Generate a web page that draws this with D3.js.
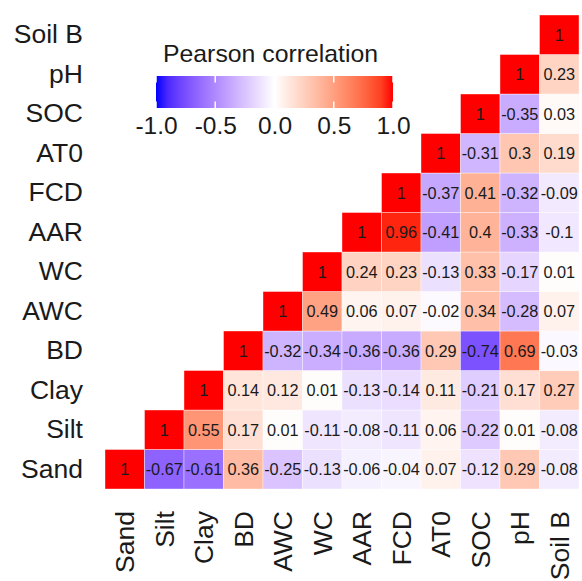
<!DOCTYPE html>
<html>
<head>
<meta charset="utf-8">
<script src="https://cdn.jsdelivr.net/npm/d3@7"></script>
<style>
  html, body { margin: 0; padding: 0; background: #fff; }
  svg { display: block; font-family: "Liberation Sans", Arial, sans-serif; }
</style>
</head>
<body>
<svg id="chart" width="582" height="581"></svg>
<script>
// Variables (bottom-to-top on y, left-to-right on x)
const variables = ["Sand", "Silt", "Clay", "BD", "AWC", "WC", "AAR", "FCD", "AT0", "SOC", "pH", "Soil B"];

// Upper-triangle correlations: row i holds values for columns i..11
const sandRow  = [1, -0.67, -0.61, 0.36, -0.25, -0.13, -0.06, -0.04, 0.07, -0.12, 0.29, -0.08];
const siltRow  = [1, 0.55, 0.17, 0.01, -0.11, -0.08, -0.11, 0.06, -0.22, 0.01, -0.08];
const clayRow  = [1, 0.14, 0.12, 0.01, -0.13, -0.14, 0.11, -0.21, 0.17, 0.27];
const bdRow    = [1, -0.32, -0.34, -0.36, -0.36, 0.29, -0.74, 0.69, -0.03];
const awcRow   = [1, 0.49, 0.06, 0.07, -0.02, 0.34, -0.28, 0.07];
const wcRow    = [1, 0.24, 0.23, -0.13, 0.33, -0.17, 0.01];
const aarRow   = [1, 0.96, -0.41, 0.4, -0.33, -0.1];
const fcdRow   = [1, -0.37, 0.41, -0.32, -0.09];
const at0Row   = [1, -0.31, 0.3, 0.19];
const socRow   = [1, -0.35, 0.03];
const phRow    = [1, 0.23];
const soilBRow = [1];
const corrRows = [sandRow, siltRow, clayRow, bdRow, awcRow, wcRow, aarRow, fcdRow, at0Row, socRow, phRow, soilBRow];

// Legend
const legendTitle = "Pearson correlation";
const legendTicks = [-1, -0.5, 0, 0.5, 1];

// Build cells
const cells = [];
corrRows.forEach((row, i) => {
  row.forEach((v, k) => {
    cells.push({ row: variables[i], col: variables[i + k], value: v });
  });
});

const svg = d3.select("#chart");
const FONT = 26.5;

const x = d3.scaleBand().domain(variables).range([105, 579]).padding(0);
const y = d3.scaleBand().domain(variables).range([489, 15]).padding(0);

const color = d3.scaleLinear()
  .domain([-1, 0, 1])
  .range(["#0000ff", "#ffffff", "#ff0000"])
  .interpolate(d3.interpolateLab);

// Cells
const g = svg.append("g");
g.selectAll("rect")
  .data(cells)
  .join("rect")
  .attr("x", d => x(d.col))
  .attr("y", d => y(d.row))
  .attr("width", x.bandwidth())
  .attr("height", y.bandwidth())
  .attr("fill", d => color(d.value))
  .attr("stroke", "rgba(255,255,255,0.55)")
  .attr("stroke-width", 0.7);

g.selectAll("text")
  .data(cells)
  .join("text")
  .attr("x", d => x(d.col) + x.bandwidth() / 2)
  .attr("y", d => y(d.row) + y.bandwidth() / 2)
  .attr("dy", "0.36em")
  .attr("text-anchor", "middle")
  .attr("font-size", 16.3)
  .attr("fill", "#1a1a1a")
  .text(d => String(d.value));

// Y axis
const yAxis = svg.append("g")
  .attr("transform", "translate(105,0)")
  .call(d3.axisLeft(y).tickSize(0).tickPadding(22));
yAxis.select(".domain").remove();
yAxis.selectAll("text")
  .attr("font-size", FONT)
  .attr("font-family", "Liberation Sans, Arial, sans-serif")
  .attr("fill", "#1a1a1a");

// X axis (rotated labels)
const xAxis = svg.append("g")
  .attr("transform", "translate(0,489)")
  .call(d3.axisBottom(x).tickSize(0));
xAxis.select(".domain").remove();
xAxis.selectAll("text")
  .attr("font-size", FONT)
  .attr("font-family", "Liberation Sans, Arial, sans-serif")
  .attr("fill", "#1a1a1a")
  .attr("text-anchor", "end")
  .attr("transform", "rotate(-90)")
  .attr("x", -22)
  .attr("y", 0)
  .attr("dy", "0.35em")
  .attr("dx", 0);

// Legend
const lx = d3.scaleLinear().domain([-1, 1]).range([156, 393]);
const barTop = 76, barH = 32;
const defs = svg.append("defs");
const grad = defs.append("linearGradient").attr("id", "lg").attr("x1", "0%").attr("x2", "100%");
d3.range(0, 1.0001, 0.05).forEach(t => {
  grad.append("stop").attr("offset", (t * 100) + "%").attr("stop-color", color(-1 + 2 * t));
});
svg.append("rect")
  .attr("x", lx(-1)).attr("y", barTop)
  .attr("width", lx(1) - lx(-1)).attr("height", barH)
  .attr("fill", "url(#lg)");

const tickG = svg.append("g");
legendTicks.forEach(t => {
  tickG.append("line")
    .attr("x1", lx(t)).attr("x2", lx(t))
    .attr("y1", barTop).attr("y2", barTop + barH / 5)
    .attr("stroke", "white").attr("stroke-width", 1.5);
  tickG.append("line")
    .attr("x1", lx(t)).attr("x2", lx(t))
    .attr("y1", barTop + barH - barH / 5).attr("y2", barTop + barH)
    .attr("stroke", "white").attr("stroke-width", 1.5);
});

const legAxis = svg.append("g")
  .attr("transform", `translate(0,${barTop + barH})`)
  .call(d3.axisBottom(lx).tickValues(legendTicks).tickFormat(d3.format(".1f")).tickSize(0).tickPadding(9));
legAxis.select(".domain").remove();
legAxis.selectAll("text")
  .attr("font-size", 24.5)
  .attr("font-family", "Liberation Sans, Arial, sans-serif")
  .attr("fill", "#1a1a1a")
  .text(d => d3.format(".1f")(d).replace("−", "-"));

svg.append("text")
  .attr("x", 163).attr("y", 62)
  .attr("font-size", 24.8)
  .attr("fill", "#1a1a1a")
  .text(legendTitle);
</script>
</body>
</html>
